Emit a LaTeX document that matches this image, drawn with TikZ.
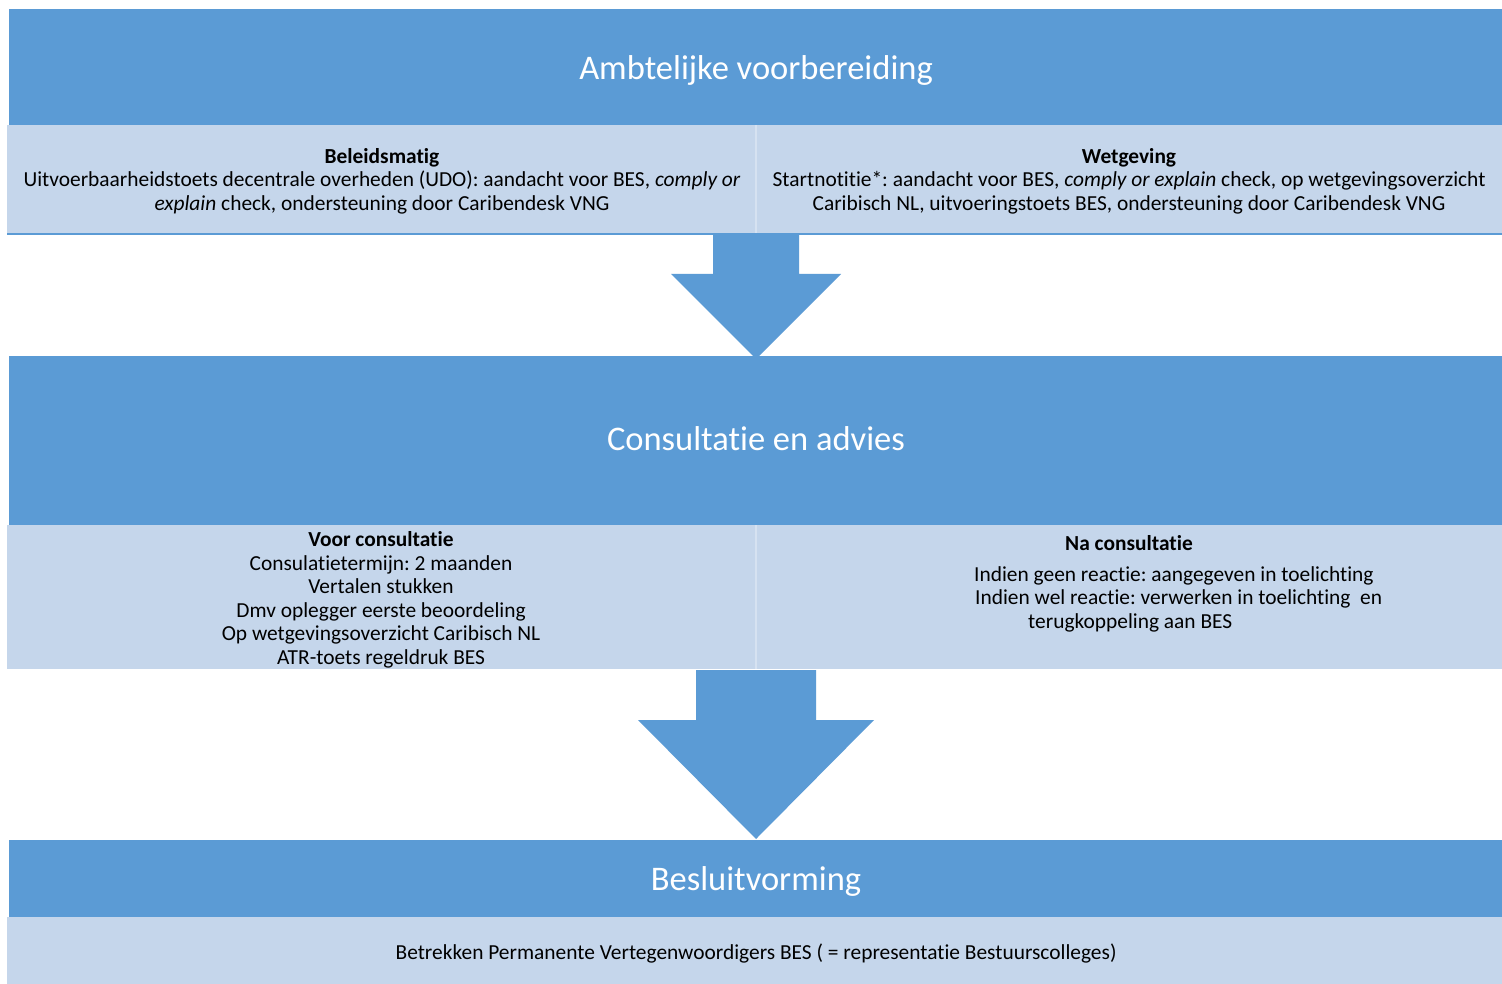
\documentclass[tikz,border=0pt]{standalone}
\usepackage{fontspec}
\setmainfont{Carlito}[Ligatures=NoCommon]
\frenchspacing
\definecolor{band}{HTML}{5B9BD5}
\definecolor{pale}{HTML}{C5D6EB}
\definecolor{divider}{HTML}{D6E2F1}
\begin{document}
\begin{tikzpicture}[x=1pt,y=-1pt,
  bandtitle/.style={text=white, font=\fontsize{34.5}{40}\selectfont, inner sep=0pt},
  body/.style={text=black, font=\fontsize{21.4}{23.5}\selectfont, align=center, inner sep=0pt},
  blockarrow/.style={fill=band, draw=none}]
\useasboundingbox (0,0) rectangle (1502,984);
\fill[white] (0,0) rectangle (1502,984);
% ---------- stage 1 ----------
\fill[band] (9,9) rectangle (1502,125);
\node[bandtitle] (t1) at (756,70) {Ambtelijke voorbereiding};
\fill[pale] (7,125) rectangle (1502,234);
\draw[divider, line width=1.5pt] (756,125) -- (756,234);
\draw[band, line width=2pt] (7,234) -- (1502,234);
\node[body] (b1) at (382,181) {\textbf{Beleidsmatig}\\Uitvoerbaarheidstoets decentrale overheden (UDO): aandacht voor BES, \textit{comply or}\\\textit{explain} check, ondersteuning door Caribendesk VNG};
\node[body] (w1) at (1129,181) {\textbf{Wetgeving}\\Startnotitie*: aandacht voor BES, \textit{comply or explain} check, op wetgevingsoverzicht\\Caribisch NL, uitvoeringstoets BES, ondersteuning door Caribendesk VNG};
% ---------- arrow 1 ----------
\fill[blockarrow] (713,235) -- (799,235) -- (799,274) -- (841,274) -- (756,359) -- (671,274) -- (713,274) -- cycle;
% ---------- stage 2 ----------
\fill[band] (9,356) rectangle (1502,525);
\node[bandtitle] (t2) at (756,439) {Consultatie en advies};
\fill[pale] (7,525) rectangle (1502,669);
\draw[divider, line width=1.5pt] (756,525) -- (756,669);
\node[body] (v2) at (381,600) {\textbf{Voor consultatie}\\Consulatietermijn: 2 maanden\\Vertalen stukken\\Dmv oplegger eerste beoordeling\\Op wetgevingsoverzicht Caribisch NL\\ATR-toets regeldruk BES};
\node[body] (n2h) at (1129,543) {\textbf{Na consultatie}};
\node[body, align=left, anchor=north west] (n2) at (974,566) {Indien geen reactie: aangegeven in toelichting\\\hspace*{1pt}Indien wel reactie: verwerken in toelichting\ \ en\\\hspace*{54pt}terugkoppeling aan BES};
% ---------- arrow 2 ----------
\fill[blockarrow] (696,670) -- (816,670) -- (816,720) -- (874,720) -- (756,839) -- (638,720) -- (696,720) -- cycle;
% ---------- stage 3 ----------
\fill[band] (9,840) rectangle (1502,917);
\node[bandtitle] (t3) at (756,881) {Besluitvorming};
\fill[pale] (7,917) rectangle (1502,984);
\node[body] (b3) at (756,954) {Betrekken Permanente Vertegenwoordigers BES ( = representatie Bestuurscolleges)};
\end{tikzpicture}
\end{document}
